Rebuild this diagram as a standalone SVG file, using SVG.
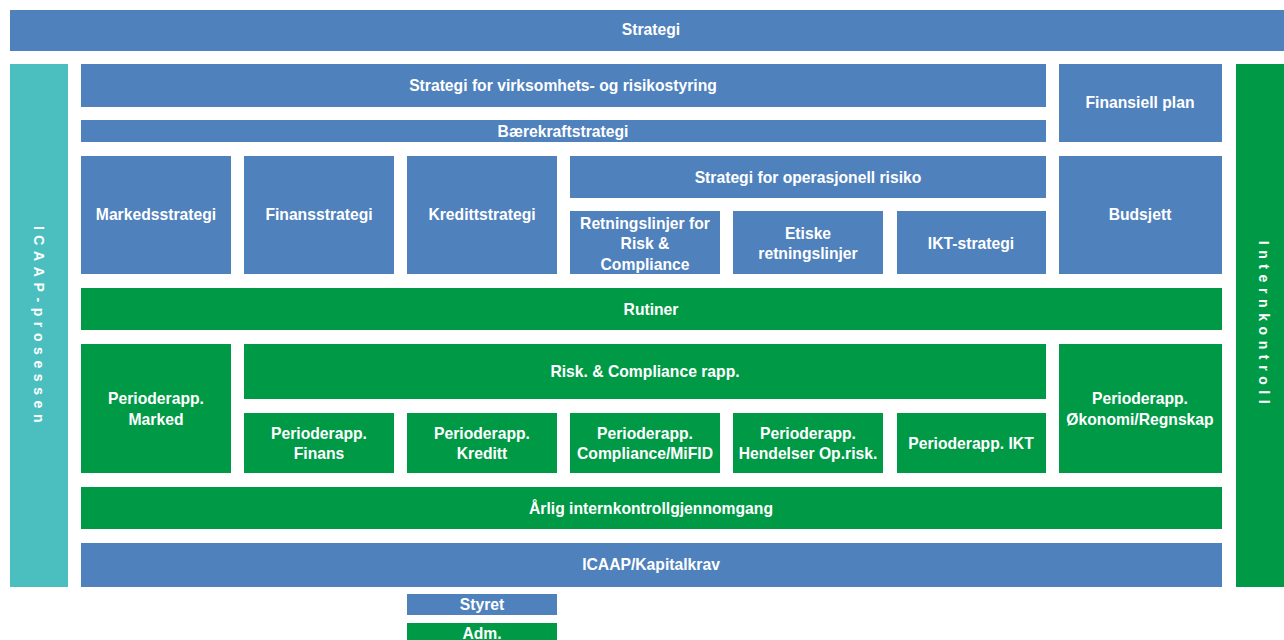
<svg xmlns="http://www.w3.org/2000/svg" width="1284" height="640" viewBox="0 0 1284 640">
<style>
.b{fill:#4F81BD}
.g{fill:#009A46}
.t{fill:#4BBFC0}
text{font-family:"Liberation Sans",Arial,sans-serif;font-weight:bold;font-size:15.7px;fill:#fff;text-anchor:middle}
.v{font-size:14px;letter-spacing:5.6px}
</style>
<rect width="1284" height="640" fill="#fff"/>
<g id="strategi"><rect class="b" x="10" y="10" width="1274" height="41"/><text x="651" y="35">Strategi</text></g>
<g id="icaap-prosessen"><rect class="t" x="10" y="64" width="58" height="523"/><text class="v" transform="translate(34,327) rotate(90)">ICAAP-prosessen</text></g>
<g id="internkontroll"><rect class="g" x="1236" y="64" width="48" height="523"/><text class="v" transform="translate(1259,325) rotate(90)">Internkontroll</text></g>
<g id="virksomhet"><rect class="b" x="81" y="64" width="965" height="43"/><text x="563" y="91">Strategi for virksomhets- og risikostyring</text></g>
<g id="finansiell-plan"><rect class="b" x="1059" y="64" width="163" height="78"/><text x="1140" y="108">Finansiell plan</text></g>
<g id="baerekraft"><rect class="b" x="81" y="120" width="965" height="22"/><text x="563" y="137">Bærekraftstrategi</text></g>
<g id="markedsstrategi"><rect class="b" x="81" y="156" width="150" height="118"/><text x="156" y="220">Markedsstrategi</text></g>
<g id="finansstrategi"><rect class="b" x="244" y="156" width="150" height="118"/><text x="319" y="220">Finansstrategi</text></g>
<g id="kredittstrategi"><rect class="b" x="407" y="156" width="150" height="118"/><text x="482" y="220">Kredittstrategi</text></g>
<g id="op-risiko"><rect class="b" x="570" y="156" width="476" height="42"/><text x="808" y="183">Strategi for operasjonell risiko</text></g>
<g id="retningslinjer"><rect class="b" x="570" y="211" width="150" height="63"/><text x="645" y="229">Retningslinjer for</text><text x="645" y="249">Risk &amp;</text><text x="645" y="270">Compliance</text></g>
<g id="etiske"><rect class="b" x="733" y="211" width="150" height="63"/><text x="808" y="239">Etiske</text><text x="808" y="259">retningslinjer</text></g>
<g id="ikt-strategi"><rect class="b" x="897" y="211" width="149" height="63"/><text x="971" y="249">IKT-strategi</text></g>
<g id="budsjett"><rect class="b" x="1059" y="156" width="163" height="118"/><text x="1140" y="220">Budsjett</text></g>
<g id="rutiner"><rect class="g" x="81" y="288" width="1141" height="42"/><text x="651" y="315">Rutiner</text></g>
<g id="pr-marked"><rect class="g" x="81" y="344" width="150" height="129"/><text x="156" y="404">Perioderapp.</text><text x="156" y="425">Marked</text></g>
<g id="risk-compliance-rapp"><rect class="g" x="244" y="344" width="802" height="55"/><text x="645" y="377">Risk. &amp; Compliance rapp.</text></g>
<g id="pr-okonomi"><rect class="g" x="1059" y="344" width="163" height="129"/><text x="1140" y="404">Perioderapp.</text><text x="1140" y="425">Økonomi/Regnskap</text></g>
<g id="pr-finans"><rect class="g" x="244" y="413" width="150" height="60"/><text x="319" y="439">Perioderapp.</text><text x="319" y="459">Finans</text></g>
<g id="pr-kreditt"><rect class="g" x="407" y="413" width="150" height="60"/><text x="482" y="439">Perioderapp.</text><text x="482" y="459">Kreditt</text></g>
<g id="pr-compliance"><rect class="g" x="570" y="413" width="150" height="60"/><text x="645" y="439">Perioderapp.</text><text x="645" y="459">Compliance/MiFID</text></g>
<g id="pr-hendelser"><rect class="g" x="733" y="413" width="150" height="60"/><text x="808" y="439">Perioderapp.</text><text x="808" y="459">Hendelser Op.risk.</text></g>
<g id="pr-ikt"><rect class="g" x="897" y="413" width="149" height="60"/><text x="971" y="449">Perioderapp. IKT</text></g>
<g id="arlig"><rect class="g" x="81" y="487" width="1141" height="42"/><text x="651" y="514">Årlig internkontrollgjennomgang</text></g>
<g id="icaap-kapitalkrav"><rect class="b" x="81" y="543" width="1141" height="44"/><text x="651" y="570">ICAAP/Kapitalkrav</text></g>
<g id="styret"><rect class="b" x="407" y="594" width="150" height="21"/><text x="482" y="610">Styret</text></g>
<g id="adm"><rect class="g" x="407" y="623" width="150" height="20"/><text x="482" y="639">Adm.</text></g>
<g id="connectors"/>
</svg>
